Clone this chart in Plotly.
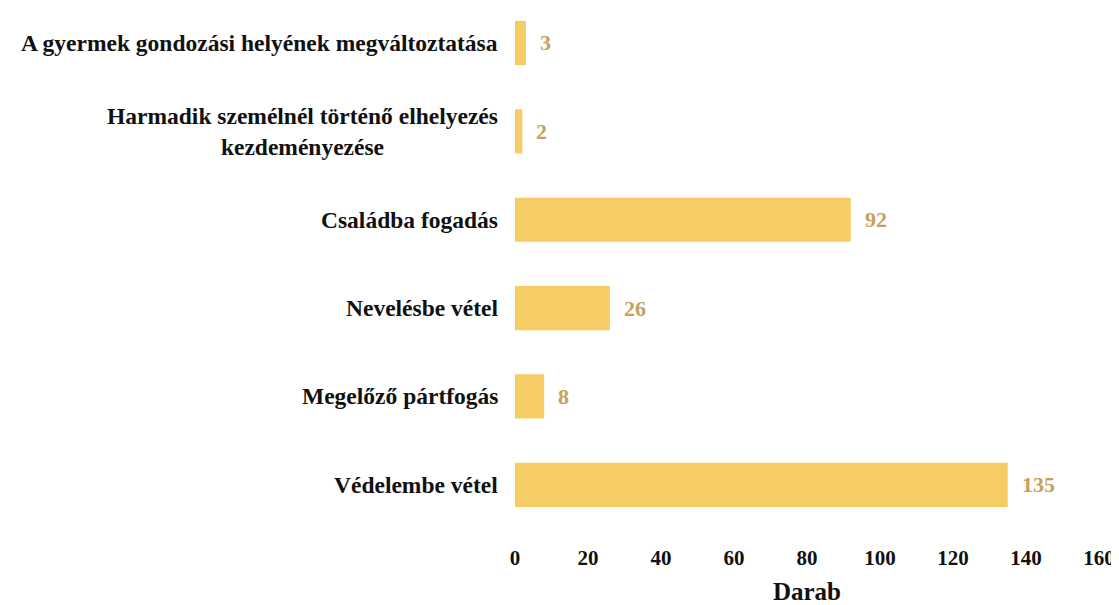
import plotly.graph_objects as go

categories = [
    "A gyermek gondozási helyének megváltoztatása",
    "Harmadik személnél történő elhelyezés<br>kezdeményezése",
    "Családba fogadás",
    "Nevelésbe vétel",
    "Megelőző pártfogás",
    "Védelembe vétel",
]
values = [3, 2, 92, 26, 8, 135]
x_ticks = [0, 20, 40, 60, 80, 100, 120, 140, 160]

FONT = "Liberation Serif"
BAR_COLOR = "#F6CC64"
LABEL_COLOR = "#C6A15C"

fig = go.Figure()
fig.add_trace(go.Bar(
    x=values, y=categories, orientation="h",
    marker=dict(color=BAR_COLOR, line=dict(width=0)),
    width=0.5,
))

annotations = []
for c, v in zip(categories, values):
    annotations.append(dict(
        x=v, y=c, xref="x", yref="y", text=f"<b>{v}</b>", showarrow=False,
        xanchor="left", yanchor="middle", xshift=12,
        font=dict(family=FONT, size=22, color=LABEL_COLOR),
    ))
    annotations.append(dict(
        x=0, y=c, xref="paper", yref="y", text=f"<b>{c}</b>", showarrow=False,
        xanchor="right", yanchor="middle", xshift=-15, align="center",
        font=dict(family=FONT, size=23.5, color="#111111"),
    ))

fig.update_layout(
    width=1111, height=597,
    margin=dict(l=507, r=20, t=0, b=76),
    paper_bgcolor="white", plot_bgcolor="white",
    showlegend=False,
    annotations=annotations,
)
fig.update_xaxes(
    range=[0, 160], tickvals=x_ticks, ticktext=[f"<b>{t}</b>" for t in x_ticks],
    showgrid=False, zeroline=False, showline=False,
    ticks="outside", ticklen=10, tickcolor="white",
    tickfont=dict(family=FONT, size=21, color="#111111"),
    title=dict(text="<b>Darab</b>", font=dict(family=FONT, size=25, color="#111111"), standoff=16),
)
fig.update_yaxes(
    categoryorder="array", categoryarray=categories[::-1],
    range=[-0.5, 5.396], showticklabels=False, showgrid=False,
    zeroline=False, showline=False,
)

fig.write_html("out.html")
